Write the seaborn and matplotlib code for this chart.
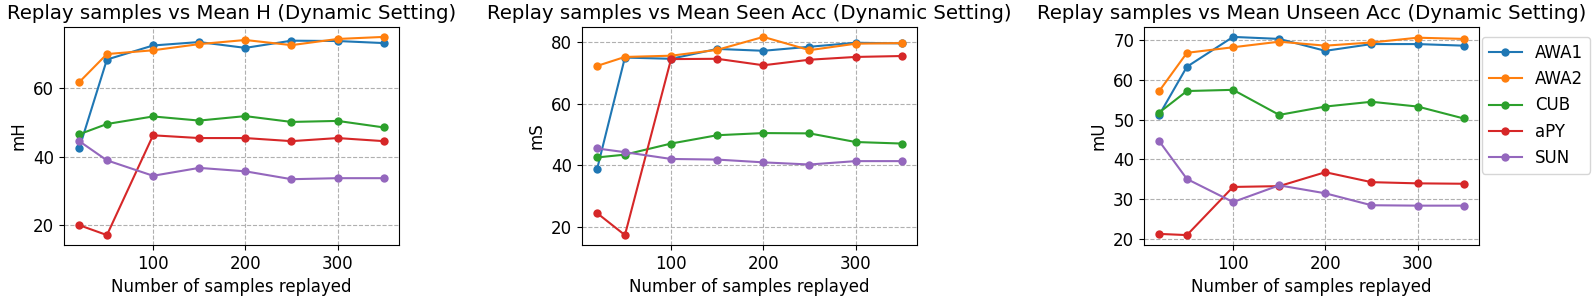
import pandas as pd
import seaborn as sns
import matplotlib
matplotlib.use("Agg")
import matplotlib.pyplot as plt
from matplotlib.ticker import MultipleLocator

# replay sample counts
samples = [20, 50, 100, 150, 200, 250, 300, 350]
datasets = ["AWA1", "AWA2", "CUB", "aPY", "SUN"]

# mean H
mH = {
    "AWA1": [42.4, 68.3, 72.4, 73.4, 71.7, 73.8, 73.7, 73.1],
    "AWA2": [61.7, 69.9, 71.0, 72.8, 74.0, 72.5, 74.3, 74.9],
    "CUB":  [46.5, 49.5, 51.7, 50.5, 51.8, 50.1, 50.4, 48.5],
    "aPY":  [20.0, 17.1, 46.2, 45.4, 45.4, 44.5, 45.4, 44.5],
    "SUN":  [44.5, 38.9, 34.4, 36.7, 35.7, 33.4, 33.7, 33.7],
}
# mean seen acc
mS = {
    "AWA1": [39.0, 75.0, 74.6, 77.8, 77.2, 78.5, 79.8, 79.6],
    "AWA2": [72.3, 75.2, 75.6, 77.5, 81.7, 77.4, 79.5, 79.7],
    "CUB":  [42.6, 43.5, 47.1, 49.8, 50.5, 50.4, 47.6, 47.1],
    "aPY":  [24.5, 17.4, 74.5, 74.6, 72.5, 74.3, 75.2, 75.5],
    "SUN":  [45.5, 44.3, 42.1, 41.9, 41.0, 40.3, 41.4, 41.4],
}
# mean unseen acc
mU = {
    "AWA1": [51.2, 63.3, 70.8, 70.3, 67.3, 69.0, 69.0, 68.6],
    "AWA2": [57.2, 66.8, 68.2, 69.6, 68.6, 69.4, 70.6, 70.3],
    "CUB":  [51.8, 57.2, 57.5, 51.2, 53.3, 54.5, 53.3, 50.3],
    "aPY":  [21.3, 21.0, 33.1, 33.3, 36.8, 34.3, 34.0, 33.9],
    "SUN":  [44.6, 35.1, 29.3, 33.5, 31.5, 28.5, 28.4, 28.4],
}

panels = [
    (mH, "mH", "Replay samples vs Mean H (Dynamic Setting)", 20),
    (mS, "mS", "Replay samples vs Mean Seen Acc (Dynamic Setting)", 20),
    (mU, "mU", "Replay samples vs Mean Unseen Acc (Dynamic Setting)", 10),
]

def to_long(values):
    rows = []
    for name in datasets:
        for x, y in zip(samples, values[name]):
            rows.append({"samples": x, "value": y, "dataset": name})
    return pd.DataFrame(rows)

fig = plt.figure(figsize=(15.96, 3.0), dpi=100)
lefts = [64, 582, 1144]
axes = [fig.add_axes([l / 1596, 55 / 300, 335 / 1596, 218 / 300]) for l in lefts]

for i, (ax, (vals, ylab, title, ystep)) in enumerate(zip(axes, panels)):
    df = to_long(vals)
    sns.lineplot(data=df, x="samples", y="value", hue="dataset", hue_order=datasets,
                 palette="tab10", marker="o", markersize=6, markeredgewidth=0,
                 linewidth=1.5, legend=(i == 2), ax=ax)
    ax.set_title(title, fontsize=14.2)
    ax.set_xlabel("Number of samples replayed", fontsize=12)
    ax.set_ylabel(ylab, fontsize=12)
    ax.tick_params(labelsize=12)
    ax.set_xticks([100, 200, 300])
    ax.yaxis.set_major_locator(MultipleLocator(ystep))
    ax.grid(True, linestyle="--", color="#b0b0b0", linewidth=0.8)

handles, labels = axes[2].get_legend_handles_labels()
axes[2].legend(handles, labels, loc="upper left", bbox_to_anchor=(1.009, 0.954),
               borderaxespad=0, fontsize=12)

fig.savefig("out.png", dpi=100)
